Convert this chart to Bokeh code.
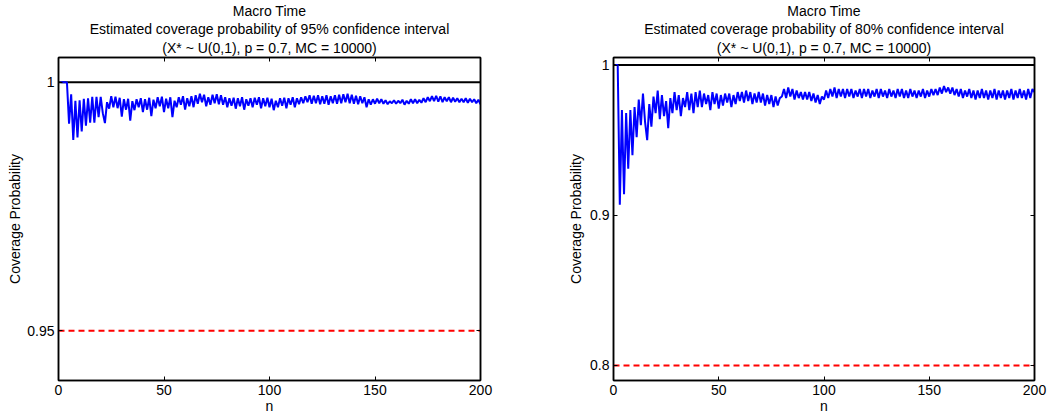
from bokeh.plotting import figure
from bokeh.models import FixedTicker, LinearAxis, Range1d, CustomJSTickFormatter, Title, Spacer
from bokeh.layouts import row
from bokeh.embed import file_html
from bokeh.resources import INLINE

# ---------------- data ----------------
n_values = list(range(1, 201))

coverage_95 = [
    1.0, 1.0, 1.0, 1.0, 0.9917, 0.9976, 0.9884, 0.9963, 0.9889, 0.9964,
    0.9901, 0.9967, 0.9913, 0.9968, 0.9919, 0.9971, 0.9919, 0.9971, 0.9930, 0.9971,
    0.9938, 0.9918, 0.9960, 0.9947, 0.9972, 0.9950, 0.9971, 0.9948, 0.9969, 0.9931,
    0.9966, 0.9945, 0.9967, 0.9923, 0.9962, 0.9944, 0.9966, 0.9950, 0.9968, 0.9940,
    0.9966, 0.9945, 0.9969, 0.9932, 0.9965, 0.9948, 0.9970, 0.9952, 0.9971, 0.9940,
    0.9967, 0.9948, 0.9970, 0.9930, 0.9963, 0.9950, 0.9970, 0.9955, 0.9972, 0.9945,
    0.9968, 0.9952, 0.9972, 0.9950, 0.9974, 0.9957, 0.9977, 0.9960, 0.9975, 0.9952,
    0.9970, 0.9955, 0.9975, 0.9958, 0.9976, 0.9956, 0.9974, 0.9955, 0.9970, 0.9950,
    0.9968, 0.9953, 0.9969, 0.9947, 0.9968, 0.9952, 0.9970, 0.9945, 0.9966, 0.9953,
    0.9968, 0.9950, 0.9969, 0.9955, 0.9970, 0.9948, 0.9968, 0.9952, 0.9969, 0.9950,
    0.9967, 0.9944, 0.9963, 0.9950, 0.9968, 0.9953, 0.9969, 0.9948, 0.9968, 0.9955,
    0.9970, 0.9950, 0.9968, 0.9956, 0.9970, 0.9958, 0.9972, 0.9960, 0.9974, 0.9957,
    0.9973, 0.9958, 0.9974, 0.9956, 0.9972, 0.9957, 0.9974, 0.9955, 0.9972, 0.9958,
    0.9974, 0.9957, 0.9975, 0.9958, 0.9976, 0.9960, 0.9977, 0.9958, 0.9975, 0.9957,
    0.9973, 0.9956, 0.9972, 0.9958, 0.9970, 0.9950, 0.9966, 0.9955, 0.9966, 0.9957,
    0.9967, 0.9958, 0.9966, 0.9957, 0.9964, 0.9956, 0.9962, 0.9958, 0.9964, 0.9957,
    0.9963, 0.9958, 0.9965, 0.9955, 0.9963, 0.9957, 0.9966, 0.9958, 0.9966, 0.9958,
    0.9965, 0.9959, 0.9968, 0.9960, 0.9970, 0.9962, 0.9972, 0.9962, 0.9973, 0.9961,
    0.9972, 0.9960, 0.9970, 0.9962, 0.9970, 0.9960, 0.9969, 0.9961, 0.9968, 0.9960,
    0.9967, 0.9960, 0.9968, 0.9959, 0.9967, 0.9960, 0.9966, 0.9958, 0.9965, 0.9956,
]

coverage_80 = [
    1.0, 1.0, 0.907, 0.970, 0.914, 0.968, 0.931, 0.970, 0.940, 0.972,
    0.952, 0.977, 0.960, 0.981, 0.962, 0.950, 0.974, 0.959, 0.979, 0.968,
    0.983, 0.964, 0.980, 0.966, 0.976, 0.958, 0.978, 0.968, 0.982, 0.970,
    0.980, 0.966, 0.978, 0.972, 0.982, 0.970, 0.981, 0.968, 0.982, 0.972,
    0.983, 0.972, 0.981, 0.974, 0.980, 0.970, 0.982, 0.974, 0.981, 0.971,
    0.980, 0.973, 0.981, 0.975, 0.981, 0.972, 0.980, 0.974, 0.982, 0.976,
    0.982, 0.975, 0.983, 0.976, 0.982, 0.974, 0.981, 0.975, 0.982, 0.975,
    0.981, 0.973, 0.980, 0.974, 0.980, 0.972, 0.979, 0.973, 0.978, 0.979,
    0.984, 0.978, 0.985, 0.979, 0.984, 0.977, 0.983, 0.978, 0.982, 0.977,
    0.982, 0.977, 0.982, 0.976, 0.981, 0.975, 0.980, 0.974, 0.979, 0.977,
    0.983, 0.978, 0.984, 0.979, 0.985, 0.978, 0.984, 0.979, 0.984, 0.978,
    0.984, 0.979, 0.984, 0.978, 0.983, 0.979, 0.984, 0.978, 0.984, 0.979,
    0.984, 0.978, 0.983, 0.979, 0.984, 0.978, 0.984, 0.979, 0.983, 0.978,
    0.984, 0.979, 0.983, 0.978, 0.984, 0.979, 0.984, 0.978, 0.983, 0.978,
    0.984, 0.979, 0.983, 0.978, 0.983, 0.979, 0.984, 0.978, 0.983, 0.979,
    0.984, 0.980, 0.984, 0.980, 0.985, 0.981, 0.986, 0.982, 0.985, 0.981,
    0.985, 0.980, 0.984, 0.979, 0.984, 0.978, 0.983, 0.979, 0.984, 0.978,
    0.983, 0.977, 0.983, 0.978, 0.984, 0.978, 0.983, 0.977, 0.983, 0.978,
    0.984, 0.977, 0.983, 0.978, 0.983, 0.977, 0.983, 0.978, 0.984, 0.977,
    0.983, 0.978, 0.984, 0.978, 0.983, 0.977, 0.984, 0.978, 0.984, 0.982,
]

x_ticks = [0, 50, 100, 150, 200]
y_ticks_left = [0.95, 1]
y_ticks_right = [0.8, 0.9, 1]
ref_x = [0, 200]
upper_bound = [1, 1]
nominal_95 = [0.95, 0.95]
nominal_80 = [0.8, 0.8]
title_95 = ["Macro Time",
            "Estimated coverage probability of 95% confidence interval",
            "(X* ~ U(0,1), p = 0.7, MC = 10000)"]
title_80 = ["Macro Time",
            "Estimated coverage probability of 80% confidence interval",
            "(X* ~ U(0,1), p = 0.7, MC = 10000)"]
x_label = "n"
y_label = "Coverage Probability"

FONT = "Liberation Sans"
FS = "14px"


def style_axis(ax, ticks, show_labels):
    ax.ticker = FixedTicker(ticks=ticks)
    ax.formatter = CustomJSTickFormatter(code="return String(Math.round(tick*1000)/1000);")
    ax.major_tick_in = 4
    ax.major_tick_out = 0
    ax.minor_tick_line_color = None
    ax.axis_line_color = "black"
    ax.axis_line_width = 1.5
    ax.major_tick_line_color = "black"
    ax.major_tick_line_width = 1
    ax.major_label_text_font = FONT
    ax.axis_label_text_font = FONT
    ax.axis_label_text_font_size = FS
    ax.axis_label_text_font_style = "normal"
    ax.axis_label_text_color = "black"
    ax.major_label_text_font_size = FS
    if show_labels:
        ax.major_label_text_color = "black"
    else:
        ax.major_label_text_color = None
        ax.major_label_standoff = 0


def make_panel(n, cov, nominal, yticks, ylim, title_lines, frame_w,
               border_l, border_r, ylab_standoff):
    p = figure(frame_width=frame_w, frame_height=323,
               x_range=Range1d(0, 200), y_range=Range1d(*ylim),
               output_backend="svg", toolbar_location=None,
               min_border_left=border_l, min_border_right=border_r,
               min_border_top=0, min_border_bottom=0, title=None)
    p.grid.visible = False
    p.outline_line_color = "black"
    p.outline_line_width = 1.5
    p.background_fill_color = "white"
    p.border_fill_color = "white"

    style_axis(p.xaxis[0], x_ticks, True)
    style_axis(p.yaxis[0], yticks, True)
    p.xaxis[0].axis_label = x_label
    p.xaxis[0].major_label_standoff = 4
    p.xaxis[0].axis_label_standoff = 0
    p.yaxis[0].axis_label = y_label
    p.yaxis[0].major_label_standoff = 4
    p.yaxis[0].axis_label_standoff = ylab_standoff

    top_ax = LinearAxis()
    style_axis(top_ax, x_ticks, False)
    p.add_layout(top_ax, "above")
    right_ax = LinearAxis()
    style_axis(right_ax, yticks, False)
    p.add_layout(right_ax, "right")

    # title lines: the first one added sits closest to the frame
    for i, line in enumerate(reversed(title_lines)):
        t = Title(text=line, align="center", text_font=FONT, text_font_size=FS,
                  text_font_style="normal", text_color="black",
                  standoff=3 if i == 0 else 0, offset=0)
        p.add_layout(t, "above")

    p.line(ref_x, upper_bound, line_color="black", line_width=2)
    p.line(ref_x, nominal, line_color="red", line_width=2, line_dash="6 4")
    p.line(n, cov, line_color="blue", line_width=2)
    return p


left = make_panel(n_values, coverage_95, nominal_95, y_ticks_left, (0.94, 1.005),
                  title_95, 422, 0, 60, 1)
right = make_panel(n_values, coverage_80, nominal_80, y_ticks_right, (0.79, 1.005),
                   title_80, 421, 73, 13, 3)

layout = row(Spacer(width=4, height=10), left, right)
with open("out.html", "w") as f:
    f.write(file_html(layout, INLINE))
